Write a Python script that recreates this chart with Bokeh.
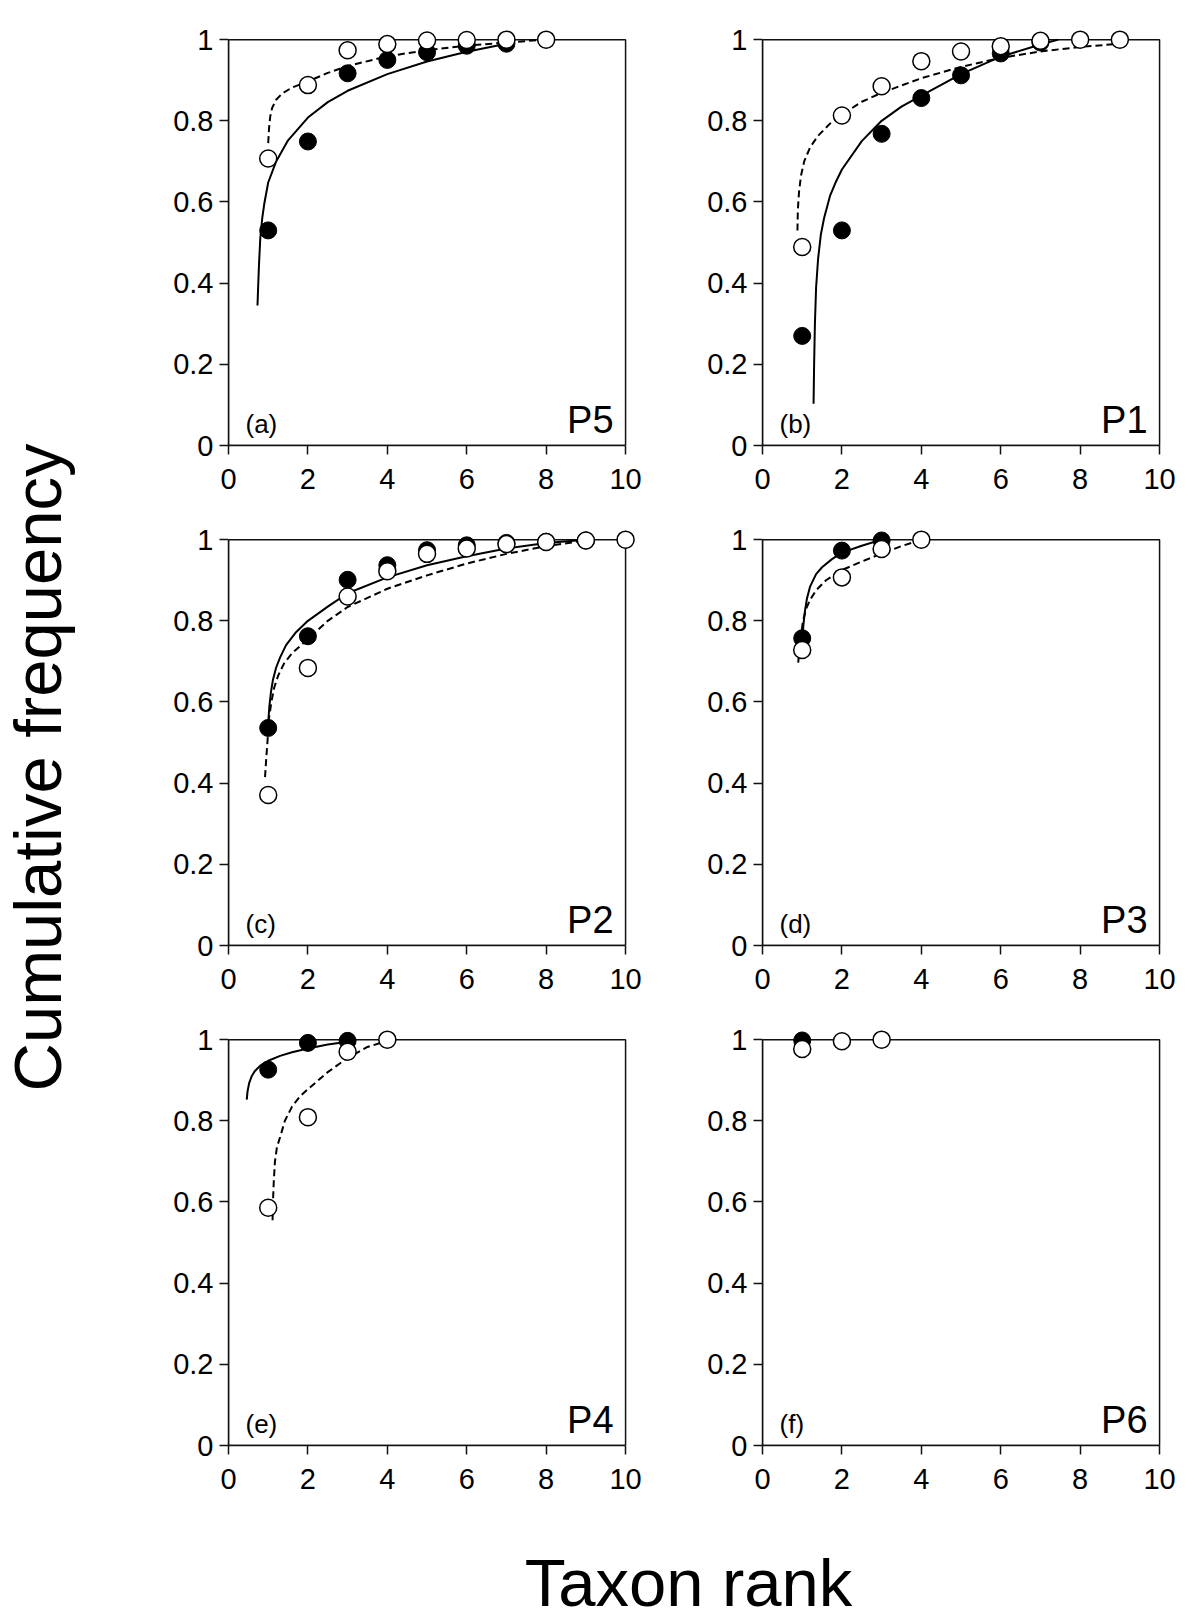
import math
from bokeh.plotting import figure
from bokeh.layouts import row, column
from bokeh.models import Range1d, FixedTicker, CustomJSTickFormatter, Label, BoxAnnotation
from bokeh.embed import file_html
from bokeh.resources import INLINE

FONT = "Liberation Sans"

x_ticks = [0, 2, 4, 6, 8, 10]
y_ticks = [0, 0.2, 0.4, 0.6, 0.8, 1.0]
y_label = "Cumulative frequency"
x_label = "Taxon rank"

# ---- (a) P5 ----
a_filled_x = [1, 2, 3, 4, 5, 6, 7]
a_filled_y = [0.530, 0.749, 0.917, 0.950, 0.969, 0.985, 0.990]
a_open_x = [1, 2, 3, 4, 5, 6, 7, 8]
a_open_y = [0.707, 0.888, 0.974, 0.989, 0.998, 0.999, 1.0, 1.0]
a_solid_x = [0.73, 0.75, 0.77, 0.80, 0.85, 0.90, 1.0, 1.2, 1.5, 2.0, 2.5, 3.0, 4.0, 5.0, 6.0, 7.0]
a_solid_y = [0.345, 0.40, 0.45, 0.51, 0.56, 0.595, 0.648, 0.70, 0.752, 0.808, 0.846, 0.874, 0.915, 0.946, 0.970, 0.990]
a_dash_x = [1.0, 1.02, 1.05, 1.1, 1.2, 1.35, 1.6, 2.0, 2.5, 3.0, 4.0, 5.0, 6.0, 7.0, 8.0]
a_dash_y = [0.745, 0.78, 0.81, 0.832, 0.852, 0.867, 0.882, 0.897, 0.918, 0.935, 0.959, 0.974, 0.985, 0.993, 1.0]

# ---- (b) P1 ----
b_filled_x = [1, 2, 3, 4, 5, 6, 7]
b_filled_y = [0.270, 0.530, 0.768, 0.856, 0.912, 0.966, 0.993]
b_open_x = [1, 2, 3, 4, 5, 6, 7, 8, 9]
b_open_y = [0.489, 0.813, 0.885, 0.947, 0.971, 0.984, 0.997, 1.0, 1.0]
b_solid_x = [1.286, 1.30, 1.32, 1.35, 1.40, 1.47, 1.55, 1.7, 1.85, 2.0, 2.5, 3.0, 3.5, 4.0, 5.0, 6.0, 7.0, 7.45]
b_solid_y = [0.103, 0.20, 0.30, 0.39, 0.46, 0.52, 0.56, 0.615, 0.65, 0.68, 0.75, 0.80, 0.835, 0.862, 0.915, 0.958, 0.988, 1.0]
b_dash_x = [0.88, 0.89, 0.92, 0.97, 1.05, 1.2, 1.4, 1.7, 2.0, 2.5, 3.0, 4.0, 5.0, 6.0, 7.0, 8.0, 9.0]
b_dash_y = [0.53, 0.58, 0.625, 0.665, 0.70, 0.735, 0.763, 0.793, 0.815, 0.847, 0.869, 0.905, 0.933, 0.955, 0.971, 0.982, 0.99]

# ---- (c) P2 ----
c_filled_x = [1, 2, 3, 4, 5, 6, 7, 8, 9]
c_filled_y = [0.536, 0.762, 0.901, 0.937, 0.974, 0.986, 0.992, 0.995, 0.998]
c_open_x = [1, 2, 3, 4, 5, 6, 7, 8, 9, 10]
c_open_y = [0.371, 0.684, 0.860, 0.922, 0.965, 0.978, 0.989, 0.994, 0.998, 1.0]
c_solid_x = [1.0, 1.03, 1.07, 1.12, 1.2, 1.3, 1.45, 1.7, 2.0, 2.5, 3.0, 4.0, 5.0, 6.0, 7.0, 8.0, 9.0]
c_solid_y = [0.55, 0.59, 0.625, 0.655, 0.685, 0.71, 0.74, 0.772, 0.80, 0.835, 0.868, 0.907, 0.937, 0.959, 0.978, 0.992, 1.0]
c_dash_x = [0.92, 0.95, 0.98, 1.02, 1.08, 1.15, 1.25, 1.4, 1.6, 2.0, 2.5, 3.0, 4.0, 5.0, 6.0, 7.0, 8.0, 9.0]
c_dash_y = [0.415, 0.46, 0.50, 0.56, 0.60, 0.635, 0.665, 0.695, 0.72, 0.755, 0.80, 0.834, 0.879, 0.912, 0.941, 0.965, 0.984, 0.998]

# ---- (d) P3 ----
d_filled_x = [1, 2, 3]
d_filled_y = [0.757, 0.973, 0.998]
d_open_x = [1, 2, 3, 4]
d_open_y = [0.728, 0.907, 0.977, 1.0]
d_solid_x = [1.0, 1.03, 1.07, 1.12, 1.2, 1.35, 1.5, 1.75, 2.0, 2.5, 3.0]
d_solid_y = [0.75, 0.79, 0.825, 0.855, 0.885, 0.915, 0.932, 0.952, 0.968, 0.985, 1.0]
d_dash_x = [0.9, 0.93, 0.97, 1.02, 1.1, 1.2, 1.35, 1.6, 2.0, 2.5, 3.0, 3.5, 4.0]
d_dash_y = [0.697, 0.735, 0.765, 0.80, 0.83, 0.852, 0.875, 0.90, 0.925, 0.946, 0.966, 0.984, 1.0]

# ---- (e) P4 ----
e_filled_x = [1, 2, 3]
e_filled_y = [0.926, 0.992, 0.997]
e_open_x = [1, 2, 3, 4]
e_open_y = [0.586, 0.809, 0.970, 1.0]
e_solid_x = [0.46, 0.48, 0.52, 0.58, 0.66, 0.8, 1.0, 1.3, 1.6, 2.0, 2.5, 3.0]
e_solid_y = [0.852, 0.873, 0.893, 0.909, 0.922, 0.936, 0.948, 0.96, 0.969, 0.978, 0.988, 0.995]
e_dash_x = [1.11, 1.12, 1.14, 1.17, 1.22, 1.3, 1.42, 1.6, 1.8, 2.0, 2.5, 3.0, 3.5, 4.0]
e_dash_y = [0.555, 0.60, 0.65, 0.70, 0.735, 0.76, 0.80, 0.835, 0.86, 0.878, 0.92, 0.955, 0.982, 0.997]

# ---- (f) P6 ----
f_filled_x = [1]
f_filled_y = [0.998]
f_open_x = [1, 2, 3]
f_open_y = [0.977, 0.996, 1.0]
f_solid_x = []
f_solid_y = []
f_dash_x = []
f_dash_y = []

panels = [
    dict(tag="(a)", name="P5", fx=a_filled_x, fy=a_filled_y, ox=a_open_x, oy=a_open_y,
         sx=a_solid_x, sy=a_solid_y, dx=a_dash_x, dy=a_dash_y),
    dict(tag="(b)", name="P1", fx=b_filled_x, fy=b_filled_y, ox=b_open_x, oy=b_open_y,
         sx=b_solid_x, sy=b_solid_y, dx=b_dash_x, dy=b_dash_y),
    dict(tag="(c)", name="P2", fx=c_filled_x, fy=c_filled_y, ox=c_open_x, oy=c_open_y,
         sx=c_solid_x, sy=c_solid_y, dx=c_dash_x, dy=c_dash_y),
    dict(tag="(d)", name="P3", fx=d_filled_x, fy=d_filled_y, ox=d_open_x, oy=d_open_y,
         sx=d_solid_x, sy=d_solid_y, dx=d_dash_x, dy=d_dash_y),
    dict(tag="(e)", name="P4", fx=e_filled_x, fy=e_filled_y, ox=e_open_x, oy=e_open_y,
         sx=e_solid_x, sy=e_solid_y, dx=e_dash_x, dy=e_dash_y),
    dict(tag="(f)", name="P6", fx=f_filled_x, fy=f_filled_y, ox=f_open_x, oy=f_open_y,
         sx=f_solid_x, sy=f_solid_y, dx=f_dash_x, dy=f_dash_y),
]

X_END = 10.25
Y_END = 1.025
PX_X = 39.7
PX_Y = 406
FW = round(PX_X * X_END)
FH = round(PX_Y * Y_END)
TOP = 29
ROW_H = 500
BOTTOM = ROW_H - TOP - FH
AX = "#111111"

fmt_code = "return String(Math.round(tick*10)/10);"


def make_panel(pd, left, right):
    p = figure(width=left + FW + right, height=ROW_H,
               x_range=Range1d(0, X_END), y_range=Range1d(0, Y_END),
               output_backend="svg", toolbar_location=None,
               min_border_left=left, min_border_right=right,
               min_border_top=TOP, min_border_bottom=BOTTOM)
    p.grid.visible = False
    p.outline_line_color = None
    box = BoxAnnotation(left=0, right=10, bottom=0, top=1, fill_color=None, fill_alpha=0,
                        line_color=AX, line_alpha=1.0, line_width=1.5, level="underlay")
    p.add_layout(box)
    for ax, ticks, bounds in ((p.xaxis[0], x_ticks, (0, 10)), (p.yaxis[0], y_ticks, (0, 1))):
        ax.ticker = FixedTicker(ticks=ticks)
        ax.formatter = CustomJSTickFormatter(code=fmt_code)
        ax.bounds = bounds
        ax.axis_line_color = AX
        ax.axis_line_width = 1.5
        ax.major_tick_line_color = AX
        ax.major_tick_line_width = 1.5
        ax.major_tick_out = 9
        ax.major_tick_in = 0
        ax.minor_tick_line_color = None
        ax.major_label_text_font = FONT
        ax.major_label_text_font_size = "29px"
        ax.major_label_text_color = "black"
    p.xaxis[0].major_label_standoff = 14
    p.yaxis[0].major_label_standoff = 6

    if pd["sx"]:
        p.line(pd["sx"], pd["sy"], line_color="black", line_width=2)
    if pd["dx"]:
        p.line(pd["dx"], pd["dy"], line_color="black", line_width=2, line_dash="7 4")
    p.scatter(pd["fx"], pd["fy"], size=17, marker="circle", fill_color="black", line_color="black", line_width=1)
    p.scatter(pd["ox"], pd["oy"], size=17, marker="circle", fill_color="white", line_color="black", line_width=1.5)

    p.add_layout(Label(x=0, y=0, x_offset=17, y_offset=22, text=pd["tag"], text_font=FONT,
                       text_font_size="26px", text_align="left", text_baseline="alphabetic",
                       text_color="black"))
    p.add_layout(Label(x=10, y=0, x_offset=-12, y_offset=26, text=pd["name"], text_font=FONT,
                       text_font_size="38px", text_align="right", text_baseline="alphabetic",
                       text_color="black"))
    return p


LABEL_W = 98
L1 = 130
R1 = 30
L2 = 97
R2 = 25

figs = []
for i, pd in enumerate(panels):
    if i % 2 == 0:
        figs.append(make_panel(pd, L1, R1))
    else:
        figs.append(make_panel(pd, L2, R2))

grid_h = 3 * ROW_H

left_fig = figure(width=LABEL_W, height=grid_h, x_range=Range1d(0, LABEL_W), y_range=Range1d(0, grid_h),
                  output_backend="svg", toolbar_location=None, x_axis_location=None, y_axis_location=None,
                  min_border=0, min_border_left=0, min_border_right=0, min_border_top=0, min_border_bottom=0)
left_fig.grid.visible = False
left_fig.outline_line_color = None
left_fig.add_layout(Label(x=37, y=grid_h - 767, angle=math.pi / 2, text=y_label, text_font=FONT,
                          text_font_size="67px", text_align="center", text_baseline="alphabetic",
                          text_color="black"))

total_w = LABEL_W + (L1 + FW + R1) + (L2 + FW + R2)
BOT_H = 122
bottom_fig = figure(width=total_w, height=BOT_H, x_range=Range1d(0, total_w), y_range=Range1d(0, BOT_H),
                    output_backend="svg", toolbar_location=None, x_axis_location=None, y_axis_location=None,
                    min_border=0, min_border_left=0, min_border_right=0, min_border_top=0, min_border_bottom=0)
bottom_fig.grid.visible = False
bottom_fig.outline_line_color = None
bottom_fig.add_layout(Label(x=688, y=BOT_H - 82, text=x_label, text_font=FONT,
                            text_font_size="67px", text_align="center", text_baseline="alphabetic",
                            text_color="black"))

grid = column(row(figs[0], figs[1]), row(figs[2], figs[3]), row(figs[4], figs[5]))
layout = column(row(left_fig, grid), bottom_fig)

open("out.html", "w").write(file_html(layout, INLINE))
